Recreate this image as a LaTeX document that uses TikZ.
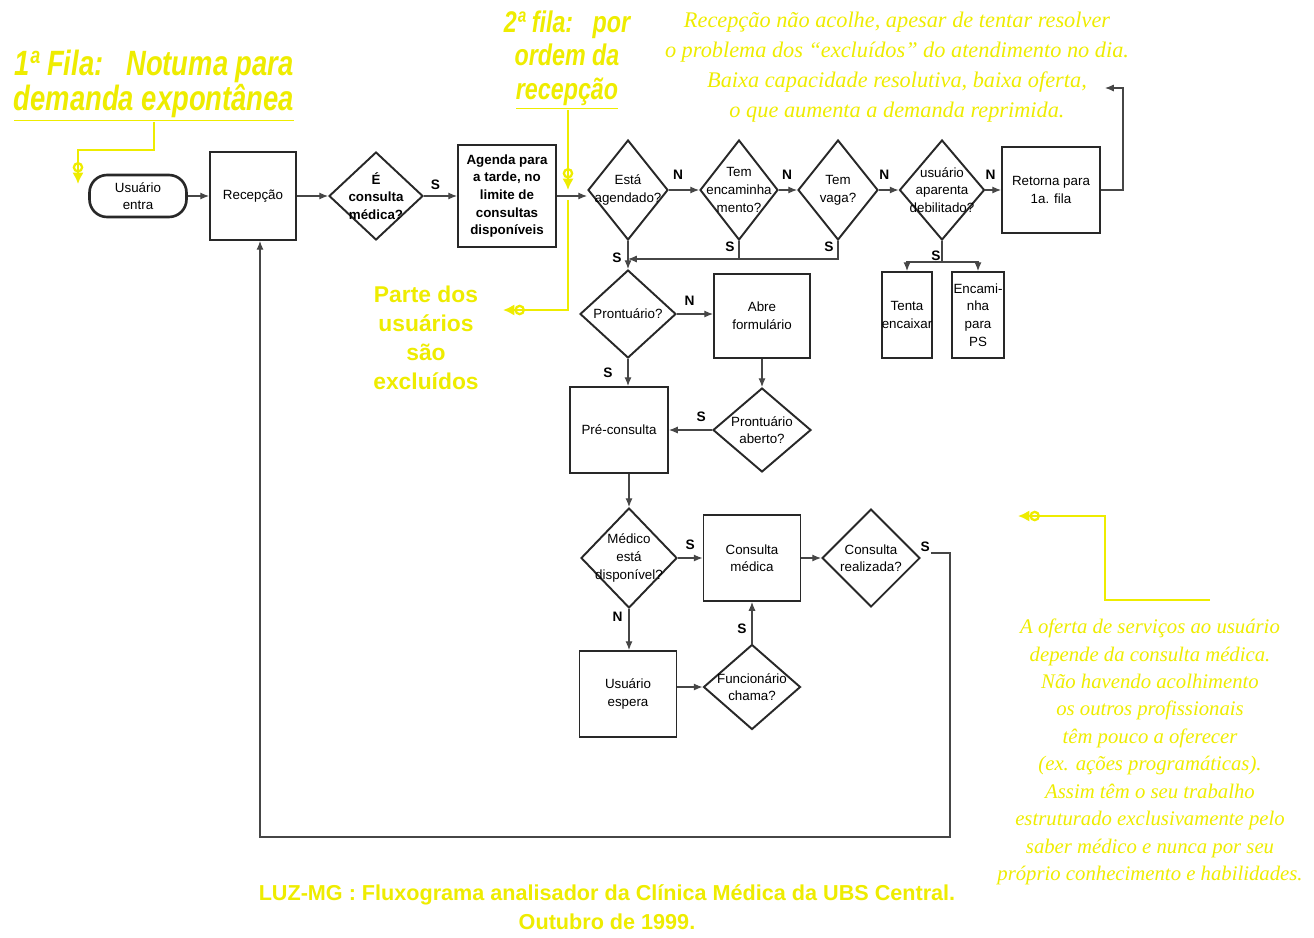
\documentclass[tikz,border=0pt]{standalone}
\usepackage{fontspec}
\setmainfont{Liberation Sans}
\newfontfamily\estreita[FakeStretch=0.78]{Liberation Sans}
\newfontfamily\serifa{Liberation Serif}
\usetikzlibrary{arrows.meta,positioning,shapes.geometric}

\definecolor{amarelo}{RGB}{238,236,0}
\definecolor{contorno}{RGB}{40,40,40}
\definecolor{fio}{RGB}{70,70,70}

\newcommand{\txtcaixa}{\fontsize{7.6}{10}\selectfont}

\tikzset{
  caixa/.style={draw=contorno, line width=1.1pt, inner sep=1pt, align=center, font=\txtcaixa},
  decisao/.style={draw=contorno, diamond, line width=1.1pt, inner sep=0pt},
  dentro/.style={align=center, inner sep=0pt, font=\txtcaixa},
  seta/.style={draw=fio, line width=0.6pt, -{Latex[length=5pt,width=4pt]}},
  traco/.style={draw=fio, line width=0.6pt},
  sn/.style={font=\bfseries\fontsize{7.8}{9}\selectfont, inner sep=0pt},
  ponteiro/.style={draw=amarelo, line width=1.3pt, -{Circle[open,length=6pt,width=6pt] Latex[length=6.5pt,width=6.5pt]}},
  aviso/.style={text=amarelo, align=center, inner sep=0pt},
}

\begin{document}
\begin{tikzpicture}[x=0.02cm, y=-0.02cm]
  \useasboundingbox (0,0) rectangle (1314,937);

  % fila da manha
  \node [caixa, rounded corners=10pt, minimum width=1.94cm, minimum height=0.84cm, line width=1.5pt] (entra) at (138,196) {Usuário\\entra};
  \node [caixa, minimum width=1.72cm, minimum height=1.76cm] (recepcao) at (253,196) {Recepção};
  \node [decisao, minimum width=1.88cm, minimum height=1.76cm, label={[dentro, font=\bfseries\txtcaixa]center:É\\consulta\\médica?}] (ehconsulta) at (376,196) {};
  \node [caixa, minimum width=1.96cm, minimum height=2.04cm, font=\bfseries\txtcaixa] (agenda) at (507,196) {Agenda para\\a tarde, no\\limite de\\consultas\\disponíveis};
  \node [decisao, minimum width=1.6cm, minimum height=2cm, label={[dentro]center:Está\\agendado?}] (agendado) at (628,190) {};
  \node [decisao, minimum width=1.56cm, minimum height=2cm, label={[dentro]center:Tem\\encaminha\\mento?}] (encaminha) at (739,190) {};
  \node [decisao, minimum width=1.6cm, minimum height=2cm, label={[dentro]center:Tem\\vaga?}] (vaga) at (838,190) {};
  \node [decisao, minimum width=1.7cm, minimum height=2cm, label={[dentro]center:usuário\\aparenta\\debilitado?}] (debilitado) at (942,190) {};
  \node [caixa, minimum width=1.96cm, minimum height=1.72cm] (retorna) at (1051,190) {Retorna para\\1a. fila};
  \node [caixa, minimum width=1cm, minimum height=1.72cm, inner sep=0pt] (tenta) at (907,315) {Tenta\\encaixar};
  \node [caixa, minimum width=1.04cm, minimum height=1.72cm, inner sep=0pt] (ps) at (978,315) {Encami-\\nha\\para\\PS};

  % prontuario e consulta
  \node [decisao, minimum width=1.92cm, minimum height=1.76cm, label={[dentro]center:Prontuário?}] (prontuario) at (628,314) {};
  \node [caixa, minimum width=1.92cm, minimum height=1.68cm] (abre) at (762,316) {Abre\\formulário};
  \node [decisao, minimum width=1.96cm, minimum height=1.68cm, label={[dentro]center:Prontuário\\aberto?}] (aberto) at (762,430) {};
  \node [caixa, minimum width=1.96cm, minimum height=1.72cm] (preconsulta) at (619,430) {Pré-consulta};
  \node [decisao, minimum width=1.92cm, minimum height=2cm, label={[dentro]center:Médico\\está\\disponível?}] (medico) at (629,558) {};
  \node [caixa, minimum width=1.94cm, minimum height=1.72cm] (consulta) at (752,558) {Consulta\\médica};
  \node [decisao, minimum width=1.96cm, minimum height=1.96cm, label={[dentro]center:Consulta\\realizada?}] (realizada) at (871,558) {};
  \node [caixa, minimum width=1.94cm, minimum height=1.72cm] (espera) at (628,694) {Usuário\\espera};
  \node [decisao, minimum width=1.94cm, minimum height=1.7cm, label={[dentro]center:Funcionário\\chama?}] (chama) at (752,687) {};

  % ligacoes
  \draw [seta] (entra) -- (recepcao);
  \draw [seta] (recepcao) -- (ehconsulta);
  \draw [seta] (ehconsulta) -- node [sn, pos=0.35, above=0.12cm] {S} (agenda);
  \draw [seta] (agenda.east) -- (agenda.east -| agendado.west);
  \draw [seta] (agendado) -- node [sn, pos=0.3, above=0.2cm] {N} (encaminha);
  \draw [seta] (encaminha) -- node [sn, pos=0.45, above=0.2cm] {N} (vaga);
  \draw [seta] (vaga) -- node [sn, pos=0.27, above=0.2cm] {N} (debilitado);
  \draw [seta] (debilitado) -- node [sn, pos=0.33, above=0.2cm] {N} (retorna);
  \coordinate (volta) at (1105,88);
  \draw [seta] (retorna.east) -- ++(22,0) |- (volta);

  \coordinate (juncao) at (628,259);
  \draw [traco] (encaminha.south) -- node [sn, pos=0.35, left=0.08cm] {S} (encaminha.south |- juncao);
  \draw [seta] (vaga.south) -- node [sn, pos=0.35, left=0.08cm] {S} (vaga.south |- juncao) -- (juncao);
  \draw [seta] (agendado.south) -- node [sn, pos=0.6, left=0.12cm] {S} (prontuario.north);

  \coordinate (ramo) at (942,262);
  \draw [traco] (debilitado.south) -- node [sn, pos=0.7, left=0.02cm] {S} (ramo);
  \draw [seta] (ramo) -| (tenta.north);
  \draw [seta] (ramo) -| (ps.north);

  \draw [seta] (prontuario.east) -- node [sn, pos=0.35, above=0.15cm] {N} (prontuario.east -| abre.west);
  \draw [seta] (prontuario.south) -- node [sn, pos=0.5, left=0.3cm] {S} (prontuario.south |- preconsulta.north);
  \draw [seta] (abre.south) -- (aberto.north);
  \draw [seta] (aberto.west) -- node [sn, pos=0.25, above=0.15cm] {S} (preconsulta.east);
  \draw [seta] (preconsulta.south -| medico.north) -- (medico.north);
  \draw [seta] (medico.east) -- node [sn, above=0.15cm] {S} (consulta.west);
  \draw [seta] (consulta.east) -- (realizada.west);
  \draw [seta] (medico.south) -- node [sn, pos=0.2, left=0.12cm] {N} (medico.south |- espera.north);
  \draw [seta] (espera.east |- chama.west) -- (chama.west);
  \draw [seta] (chama.north) -- node [sn, pos=0.35, left=0.1cm] {S} (consulta.south);

  \coordinate (retorno) at (950,837);
  \draw [seta] ([xshift=0.2cm,yshift=0.1cm]realizada.east) node [sn, above left=0.02cm] {S} -| (retorno) -| ([xshift=0.14cm]recepcao.south);

  % comentarios em amarelo
  \node [aviso, font=\estreita\bfseries\itshape\fontsize{20}{19.8}\selectfont] (fila1) at (154,86) {1ª Fila:\ \ \ Notuma para\\\underline{demanda expontânea}};
  \coordinate (alvo1) at (78,184);
  \draw [ponteiro] (fila1.south) -- ++(0,28) -| (alvo1);

  \node [aviso, font=\estreita\bfseries\itshape\fontsize{17}{19.3}\selectfont] (fila2) at (567,60) {2ª fila:\ \ \ por\\ordem da\\\underline{recepção}};
  \coordinate (alvo2) at (568,190);
  \draw [ponteiro] (fila2.south -| alvo2) -- (alvo2);

  \node [aviso, font=\bfseries\fontsize{13}{16.4}\selectfont] (excluidos) at (426,338) {Parte dos\\usuários\\são\\excluídos};
  \coordinate (alvo3) at (503,310);
  \draw [ponteiro] ([yshift=-0.2cm]alvo2) |- (alvo3);

  \node [aviso, font=\serifa\itshape\fontsize{12.7}{17}\selectfont] (nota1) at (897,67) {Recepção não acolhe, apesar de tentar resolver\\o problema dos “excluídos” do atendimento no dia.\\Baixa capacidade resolutiva, baixa oferta,\\o que aumenta a demanda reprimida.};

  \node [aviso, font=\serifa\itshape\fontsize{11.8}{15.6}\selectfont] (nota2) at (1150,752) {A oferta de serviços ao usuário\\depende da consulta médica.\\Não havendo acolhimento\\os outros profissionais\\têm pouco a oferecer\\(ex. ações programáticas).\\Assim têm o seu trabalho\\estruturado exclusivamente pelo\\saber médico e nunca por seu\\próprio conhecimento e habilidades.};
  \coordinate (inicio4) at (1210,600);
  \coordinate (alvo4) at (1018,516);
  \draw [ponteiro] (inicio4) -- ++(-105,0) |- (alvo4);

  \node [aviso, font=\bfseries\fontsize{12.3}{16.4}\selectfont] (legenda) at (607,907) {LUZ-MG : Fluxograma analisador da Clínica Médica da UBS Central.\\Outubro de 1999.};
\end{tikzpicture}
\end{document}
